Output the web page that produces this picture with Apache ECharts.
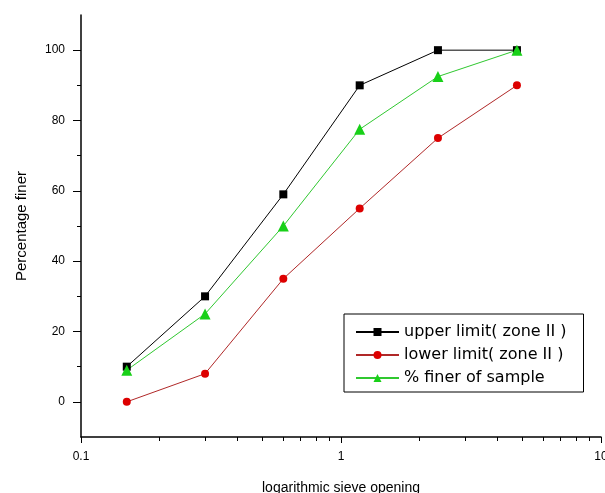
<!DOCTYPE html>
<html>
<head>
<meta charset="utf-8">
<script src="https://cdn.jsdelivr.net/npm/echarts@6/dist/echarts.min.js"></script>
<style>
  html, body { margin: 0; padding: 0; background: #fff; }
  #chart { width: 605px; height: 493px; }
</style>
</head>
<body>
<div id="chart"></div>
<script>
  // sieve openings (mm)
  const sieveSizes = [0.15, 0.3, 0.6, 1.18, 2.36, 4.75];
  const upperLimit = [10, 30, 59, 90, 100, 100];
  const lowerLimit = [0, 8, 35, 55, 75, 90];
  const sampleFiner = [9, 25, 50, 77.5, 92.5, 100];

  const xMajorTicks = [0.1, 1, 10];
  const xMinorTicks = [0.2, 0.3, 0.4, 0.5, 0.6, 0.7, 0.8, 0.9, 2, 3, 4, 5, 6, 7, 8, 9];
  const yMajorTicks = [0, 20, 40, 60, 80, 100];
  const yMinorTicks = [10, 30, 50, 70, 90];

  function pairs(xs, ys) {
    let out = [];
    for (let i = 0; i < xs.length; i++) {
      out.push([xs[i], ys[i]]);
    }
    return out;
  }

  const font = 'Liberation Sans, Arial, sans-serif';
  const chart = echarts.init(document.getElementById('chart'));

  let option = {
    backgroundColor: '#fff',
    animation: false,
    grid: {
      left: 81,
      right: 4,
      top: 15,
      bottom: 56,
      outerBoundsMode: 'none'
    },
    legend: {
      orient: 'vertical',
      left: 344,
      top: 314,
      padding: [10, 17, 6, 11],
      itemGap: 7,
      itemWidth: 43,
      itemHeight: 10,
      backgroundColor: '#fff',
      borderColor: '#000',
      borderWidth: 1,
      textStyle: {
        color: '#000',
        fontFamily: 'DejaVu Sans, sans-serif',
        fontSize: 16,
        lineHeight: 16
      },
      data: ['upper limit( zone II )', 'lower limit( zone II )', '% finer of sample']
    },
    xAxis: [
      {
        type: 'log',
        logBase: 10,
        min: 0.1,
        max: 10,
        name: 'logarithmic sieve opening',
        nameLocation: 'middle',
        nameGap: 44,
        nameTextStyle: { color: '#000', fontFamily: font, fontSize: 14 },
        axisLine: { onZero: false, lineStyle: { color: '#000', width: 1.5 } },
        axisTick: { length: 6, customValues: xMajorTicks, lineStyle: { color: '#000' } },
        axisLabel: {
          customValues: xMajorTicks,
          margin: 14,
          color: '#000',
          fontFamily: font,
          fontSize: 12,
          formatter: function (v) { return String(v); }
        },
        splitLine: { show: false }
      },
      {
        type: 'log',
        logBase: 10,
        min: 0.1,
        max: 10,
        position: 'bottom',
        axisLine: { show: false, onZero: false },
        axisTick: { length: 4, inside: false, customValues: xMinorTicks, lineStyle: { color: '#000' } },
        axisLabel: { show: false },
        splitLine: { show: false }
      }
    ],
    yAxis: [
      {
        type: 'value',
        min: -10,
        max: 110,
        interval: 10,
        name: 'Percentage finer',
        nameLocation: 'middle',
        nameGap: 52,
        nameTextStyle: { color: '#000', fontFamily: font, fontSize: 15 },
        axisLine: { show: true, onZero: false, lineStyle: { color: '#000', width: 1.5 } },
        axisTick: { show: true, length: 8, customValues: yMajorTicks, lineStyle: { color: '#000' } },
        axisLabel: {
          customValues: yMajorTicks,
          margin: 16,
          color: '#000',
          fontFamily: font,
          fontSize: 12
        },
        splitLine: { show: false }
      },
      {
        type: 'value',
        min: -10,
        max: 110,
        interval: 10,
        position: 'left',
        axisLine: { show: false, onZero: false },
        axisTick: { show: true, length: 4, customValues: yMinorTicks, lineStyle: { color: '#000' } },
        axisLabel: { show: false },
        splitLine: { show: false }
      }
    ],
    series: [
      {
        name: 'upper limit( zone II )',
        type: 'line',
        symbol: 'rect',
        symbolSize: 8,
        itemStyle: { color: '#000' },
        lineStyle: { color: '#000', width: 1 },
        data: pairs(sieveSizes, upperLimit)
      },
      {
        name: 'lower limit( zone II )',
        type: 'line',
        symbol: 'circle',
        symbolSize: 8,
        itemStyle: { color: '#dd0000' },
        lineStyle: { color: '#b02828', width: 1 },
        data: pairs(sieveSizes, lowerLimit)
      },
      {
        name: '% finer of sample',
        type: 'line',
        symbol: 'triangle',
        symbolSize: 11,
        itemStyle: { color: '#18d018' },
        lineStyle: { color: '#30c830', width: 1 },
        data: pairs(sieveSizes, sampleFiner)
      }
    ]
  };

  chart.setOption(option);
  window.addEventListener('resize', function () {
    chart.resize();
  });
</script>
</body>
</html>
